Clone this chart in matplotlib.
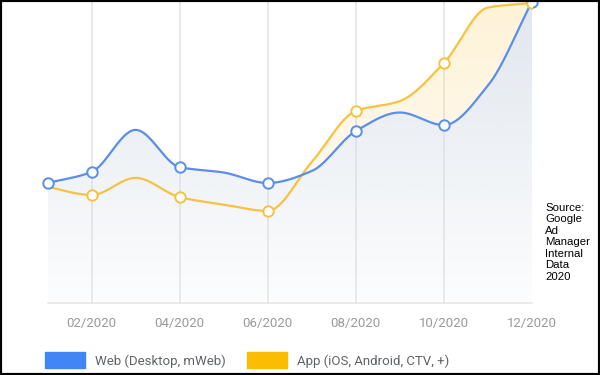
import numpy as np
import matplotlib
matplotlib.use("Agg")
import matplotlib.pyplot as plt
from matplotlib.patches import Rectangle

# data (index values, no y axis shown)
months = [1, 2, 3, 4, 5, 6, 7, 8, 9, 10, 11, 12]
web = [40.0, 43.7, 57.7, 45.3, 43.5, 40.0, 44.0, 57.3, 63.5, 59.3, 72.5, 100.5]
app = [38.7, 36.0, 41.7, 35.3, 32.8, 30.7, 47.0, 64.0, 67.3, 80.0, 98.5, 100.0]
marker_months = [2, 4, 6, 8, 10, 12]
tick_months = [2, 4, 6, 8, 10, 12]
tick_labels = ['02/2020', '04/2020', '06/2020', '08/2020', '10/2020', '12/2020']
legend_labels = ['Web (Desktop, mWeb)', 'App (iOS, Android, CTV, +)']
source_text = 'Source:\nGoogle\nAd\nManager\nInternal\nData\n2020'

BLUE_LINE = '#5b8ee6'
YELLOW_LINE = '#f5c242'
BLUE_BOX = '#4285f4'
YELLOW_BOX = '#fbbc04'


def monotone(x, y, n=600):
    # Fritsch-Carlson monotone cubic, like d3 curveMonotoneX
    x = np.asarray(x, float)
    y = np.asarray(y, float)
    h = np.diff(x)
    d = np.diff(y) / h
    m = np.zeros_like(y)
    m[0] = d[0]
    m[-1] = d[-1]
    for k in range(1, len(y) - 1):
        if d[k - 1] * d[k] <= 0:
            m[k] = 0
        else:
            m[k] = 2.0 / (1.0 / d[k - 1] + 1.0 / d[k])
    xs = np.linspace(x[0], x[-1], n)
    idx = np.clip(np.searchsorted(x, xs) - 1, 0, len(x) - 2)
    t = (xs - x[idx]) / h[idx]
    h00 = 2 * t**3 - 3 * t**2 + 1
    h10 = t**3 - 2 * t**2 + t
    h01 = -2 * t**3 + 3 * t**2
    h11 = t**3 - t**2
    ys = h00 * y[idx] + h10 * h[idx] * m[idx] + h01 * y[idx + 1] + h11 * h[idx] * m[idx + 1]
    return xs, ys


fig = plt.figure(figsize=(6, 3.75), dpi=100)
ax = fig.add_axes([47.5 / 600, 72 / 375, (532 - 47.5) / 600, 303 / 375])
ax.set_xlim(1, 12)
ax.set_ylim(0, 101)

# vertical grid
for m in tick_months[:-1]:
    ax.axvline(m, color='#e6e6e6', lw=1.2, zorder=0)

xa, ya = monotone(months, app)
xw, yw = monotone(months, web)


def gradient_fill(xs, y1, y2, rgb, a_top, a_bot, z, where=None):
    poly = ax.fill_between(xs, y1, y2, where=where, color='none', lw=0)
    g = np.linspace(a_bot, a_top, 256)
    img = np.zeros((256, 1, 4))
    img[:, 0, :3] = rgb
    img[:, 0, 3] = g
    for path in poly.get_paths():
        im = ax.imshow(img, extent=(1, 12, 0, 101), origin='lower', aspect='auto',
                       zorder=z, interpolation='bilinear')
        im.set_clip_path(path, transform=ax.transData)


# yellow tint only where app is above web
gradient_fill(xa, ya, yw, (0.99, 0.76, 0.2), 0.2, 0.02, 1, where=ya > yw)
gradient_fill(xw, yw, 0, (0.80, 0.84, 0.89), 0.6, 0.05, 2)

ax.plot(xa, ya, color=YELLOW_LINE, lw=1.6, zorder=3, clip_on=False)
ax.plot(xw, yw, color=BLUE_LINE, lw=1.6, zorder=4, clip_on=False)

web_m = [1] + marker_months
ax.plot(web_m, [web[m - 1] for m in web_m], 'o', ms=7.5, mfc='white',
        mec=BLUE_LINE, mew=1.4, zorder=5, clip_on=False)
ax.plot(marker_months, [app[m - 1] for m in marker_months], 'o', ms=7.5,
        mfc='white', mec=YELLOW_LINE, mew=1.4, zorder=6, clip_on=True)

for s in ['top', 'right', 'left']:
    ax.spines[s].set_visible(False)
ax.spines['bottom'].set_color('#e6e6e6')
ax.spines['bottom'].set_linewidth(1.2)
ax.set_yticks([])
ax.set_xticks(tick_months)
ax.set_xticklabels(tick_labels, fontsize=9.5, color='#9a9a9a', family='Roboto')
ax.tick_params(axis='x', length=0, pad=10)
ax.set_facecolor('none')

# legend
fig.patches.append(Rectangle((45 / 600, 1 - 368 / 375), 40 / 600, 16 / 375,
                             transform=fig.transFigure, color=BLUE_BOX))
fig.text(95 / 600, 1 - 361 / 375, legend_labels[0], fontsize=9.5,
         color='#5f6368', family='Roboto', va='center')
fig.patches.append(Rectangle((247 / 600, 1 - 368 / 375), 40 / 600, 16 / 375,
                             transform=fig.transFigure, color=YELLOW_BOX))
fig.text(297 / 600, 1 - 361 / 375, legend_labels[1], fontsize=9.5,
         color='#5f6368', family='Roboto', va='center')

fig.text(545 / 600, 1 - 203 / 375, source_text, fontsize=8.2, color='black',
         family='Liberation Sans', va='top', linespacing=1.18)

# black frame round the picture
fig.patches.append(Rectangle((0, 0), 1, 1, transform=fig.transFigure,
                             fill=False, ec='black', lw=3))

fig.savefig('out.png', dpi=100)
